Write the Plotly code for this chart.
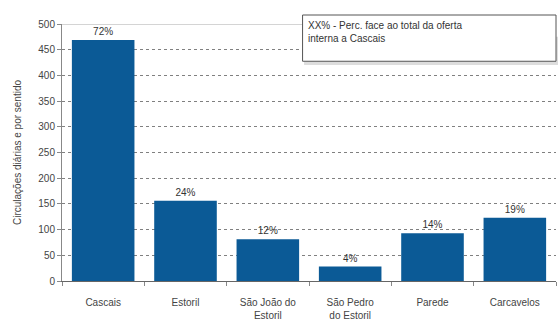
import plotly.graph_objects as go

# Daily services per direction by station, with share of Cascais line internal offer
stations = ["Cascais", "Estoril", "São João do<br>Estoril", "São Pedro<br>do Estoril", "Parede", "Carcavelos"]
circulations = [469, 156, 81, 28, 93, 123]
shares = ["72%", "24%", "12%", "4%", "14%", "19%"]
y_ticks = [0, 50, 100, 150, 200, 250, 300, 350, 400, 450, 500]

font_family = "Liberation Sans, Arial, sans-serif"

fig = go.Figure()
fig.add_trace(go.Bar(
    x=stations,
    y=circulations,
    text=shares,
    textposition="outside",
    textfont=dict(family=font_family, size=10, color="#333333"),
    marker=dict(color="#0b5a96", line=dict(width=0)),
    width=0.76,
    cliponaxis=False,
))

fig.update_layout(
    width=558,
    height=320,
    margin=dict(l=62, r=2, t=24, b=39),
    paper_bgcolor="white",
    plot_bgcolor="white",
    showlegend=False,
    font=dict(family=font_family, size=10, color="#444444"),
    xaxis=dict(
        type="category",
        automargin=False,
        showline=True,
        linecolor="#666666",
        linewidth=1,
        ticks="outside",
        tickson="boundaries",
        ticklen=4,
        tickcolor="#888888",
        showgrid=False,
        ticklabelstandoff=12,
        tickfont=dict(size=10, color="#444444"),
    ),
    yaxis=dict(
        range=[0, 500],
        tickvals=y_ticks,
        showline=True,
        linecolor="#888888",
        linewidth=1,
        ticks="outside",
        ticklen=4,
        tickcolor="#888888",
        showgrid=True,
        gridcolor="#808080",
        griddash="3px,3px",
        gridwidth=1,
        zeroline=False,
        tickfont=dict(size=10, color="#444444"),
        title=dict(text="Circulações diárias e por sentido",
                   font=dict(size=10, color="#444444"), standoff=14),
    ),
)

# solid top border of the plot area
fig.add_shape(type="line", xref="paper", yref="y", x0=0, x1=1, y0=500, y1=500,
              line=dict(color="#aaaaaa", width=1))

# legend note box with a soft shadow
fig.add_shape(type="rect", xref="paper", yref="paper", x0=0.49, x1=1.01, y0=0.84, y1=0.95,
              line=dict(width=0), fillcolor="rgba(120,120,120,0.25)", layer="above")
fig.add_shape(type="rect", xref="paper", yref="paper", x0=0.487, x1=1.0, y0=0.855, y1=1.035,
              line=dict(color="#555555", width=1), fillcolor="white", layer="above")
fig.add_annotation(
    xref="paper", yref="paper", x=0.494, y=1.025, xanchor="left", yanchor="top",
    text="XX% - Perc. face ao total da oferta<br>interna a Cascais",
    showarrow=False, align="left",
    font=dict(family=font_family, size=10, color="#333333"),
)

fig.write_html("out.html")
